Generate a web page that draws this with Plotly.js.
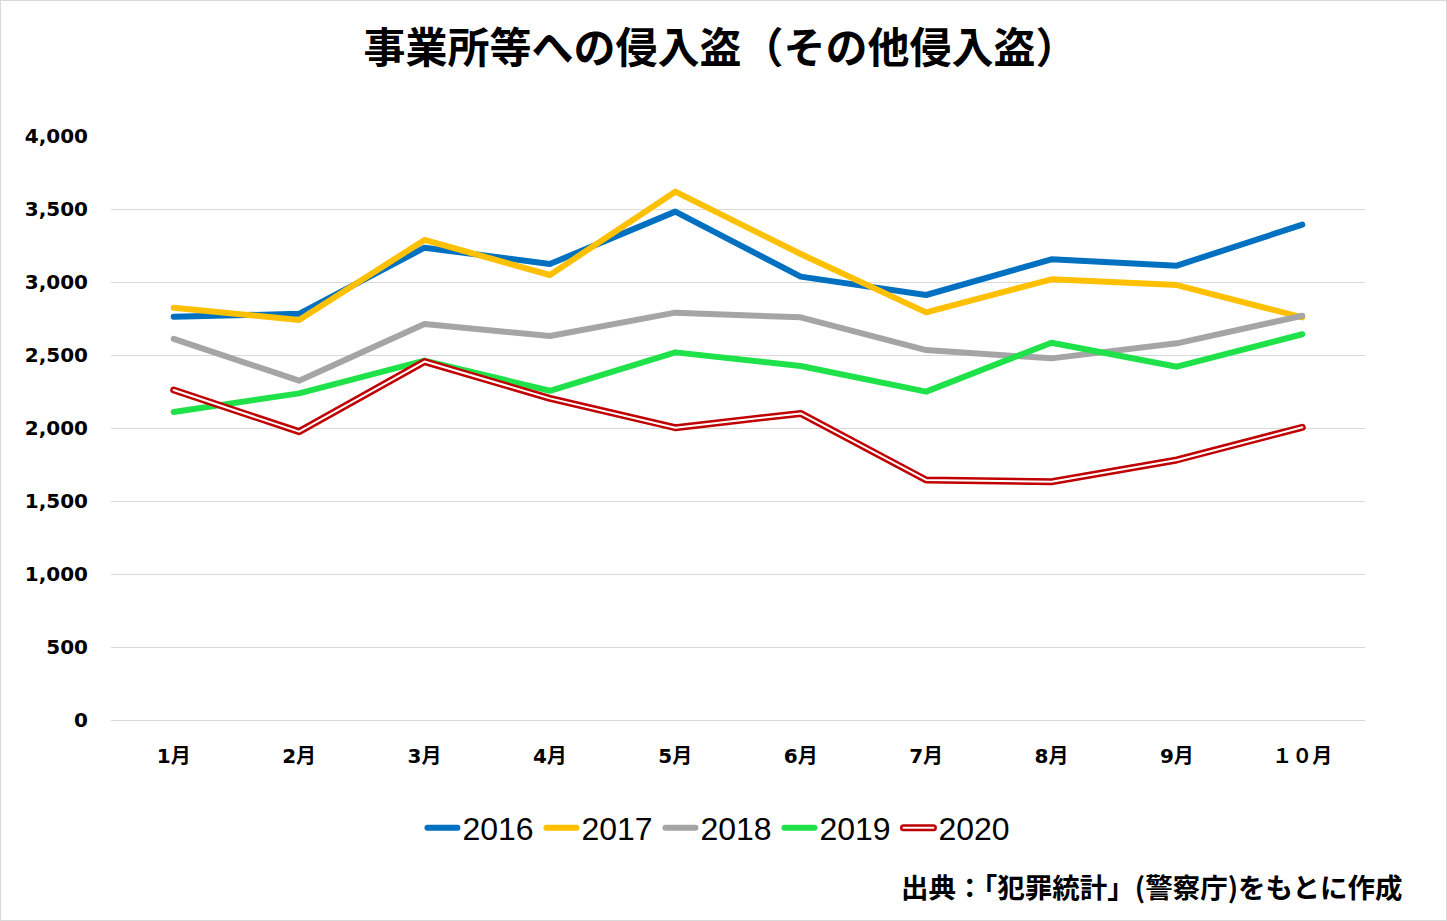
<!DOCTYPE html>
<html>
<head>
<meta charset="utf-8">
<script src="https://cdn.plot.ly/plotly-3.0.1.min.js"></script>
<style>
  html, body { margin: 0; padding: 0; background: #fff; }
  #frame { width: 1447px; height: 921px; box-sizing: border-box; border: 1px solid #d9d9d9; overflow: hidden; }
  #chart { width: 1445px; height: 919px; }
  .scatterlayer path.js-line, .legend path.js-line { stroke-linecap: round !important; stroke-linejoin: round !important; }
</style>
</head>
<body>
<div id="frame"><div id="chart"></div></div>
<script>
const months = ['1月','2月','3月','4月','5月','6月','7月','8月','9月','１０月'];
const years = ['2016','2017','2018','2019','2020'];
const v2016 = [2762, 2782, 3235, 3123, 3482, 3037, 2911, 3155, 3112, 3393];
const v2017 = [2824, 2740, 3288, 3048, 3619, 3192, 2792, 3018, 2979, 2758];
const v2018 = [2610, 2324, 2712, 2630, 2790, 2758, 2534, 2477, 2580, 2769];
const v2019 = [2110, 2237, 2461, 2255, 2518, 2425, 2249, 2584, 2420, 2642];
const v2020 = [2260, 1975, 2455, 2203, 2002, 2100, 1644, 1632, 1781, 2005];
const colors = ['#0070C0', '#FFC000', '#A5A5A5', '#1FE24A', '#C00000'];
const title = '事業所等への侵入盗（その他侵入盗）';
const source = '出典：「犯罪統計」(警察庁)をもとに作成';

const series = [v2016, v2017, v2018, v2019, v2020];
const traces = [];
series.forEach((vals, i) => {
  traces.push({
    type: 'scatter', mode: 'lines', name: years[i],
    x: months, y: vals,
    line: { color: colors[i], width: i === 4 ? 7 : 6 },
    hoverinfo: 'x+y+name'
  });
});
// inner white line for the double-line 2020 series
traces.push({
  type: 'scatter', mode: 'lines', name: years[4] + ' inner',
  x: months, y: v2020, showlegend: false,
  line: { color: '#ffffff', width: 2 }, hoverinfo: 'skip'
});

const layout = {
  width: 1445, height: 919,
  paper_bgcolor: '#ffffff', plot_bgcolor: '#ffffff',
  margin: { l: 110, r: 81, t: 135, b: 200 },
  title: {
    text: '<b>' + title + '</b>',
    font: { family: 'Noto Sans CJK JP', size: 42, color: '#000' },
    x: 0.498, xanchor: 'center', y: 0.948, yanchor: 'middle'
  },
  xaxis: {
    type: 'category', range: [-0.5, 9.5],
    showgrid: false, zeroline: false, showline: false,
    ticks: 'outside', ticklen: 18, tickcolor: 'rgba(0,0,0,0)',
    tickfont: { family: 'DejaVu Sans, Noto Sans CJK JP', size: 20, color: '#000', weight: 'bold' }
  },
  yaxis: {
    range: [0, 4000], dtick: 500, tickformat: ',d',
    showgrid: true, gridcolor: '#d9d9d9', gridwidth: 1,
    zeroline: true, zerolinecolor: '#d9d9d9', zerolinewidth: 1,
    showline: false,
    ticks: 'outside', ticklen: 18, tickcolor: 'rgba(0,0,0,0)',
    tickfont: { family: 'DejaVu Sans', size: 20, color: '#000', weight: 'bold' }
  },
  legend: {
    orientation: 'h', x: 0.4856, xanchor: 'center', y: -0.185, yanchor: 'middle',
    font: { family: 'Liberation Sans', size: 32, color: '#000' },
    itemwidth: 30, entrywidth: 74, entrywidthmode: 'pixels',
    traceorder: 'normal'
  },
  annotations: [{
    text: '<b>' + source + '</b>',
    xref: 'paper', yref: 'paper', x: 1.0319, y: -0.284,
    xanchor: 'right', yanchor: 'middle', showarrow: false,
    font: { family: 'Noto Sans CJK JP', size: 27.5, color: '#000' }
  }],
  showlegend: true
};

Plotly.newPlot('chart', traces, layout, { displayModeBar: false, staticPlot: true }).then(gd => {
  // add the white inner stripe to the 2020 legend symbol
  document.querySelectorAll('.legend .traces').forEach(t => {
    const txt = t.querySelector('text.legendtext');
    if (txt && txt.textContent === years[4]) {
      const p = t.querySelector('path.js-line');
      if (p) {
        const c = p.cloneNode(true);
        c.style.stroke = '#ffffff';
        c.style.strokeWidth = '2px';
        p.parentNode.appendChild(c);
      }
    }
  });
});
</script>
</body>
</html>
